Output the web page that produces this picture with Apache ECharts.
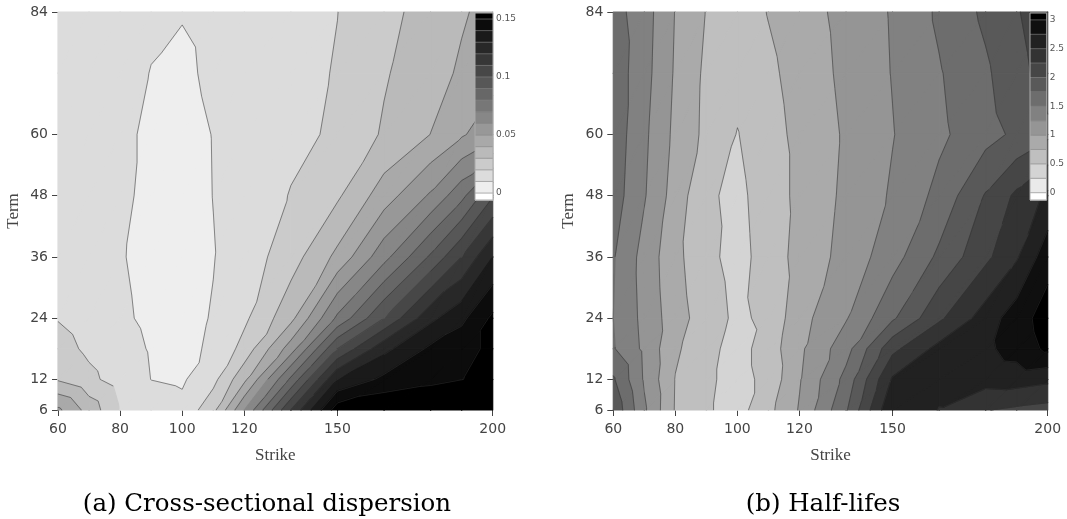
<!DOCTYPE html>
<html>
<head>
<meta charset="utf-8">
<script src="https://cdn.jsdelivr.net/npm/echarts@6/dist/echarts.min.js"></script>
<style>
html, body { margin: 0; padding: 0; background: #fff; }
#main { width: 1067px; height: 519px; }
</style>
</head>
<body>
<div id="main"></div>
<script>
// grid nodes
const strikes = [60, 70, 80, 90, 100, 110, 120, 135, 150, 165, 180, 190, 200]
const terms = [6, 12, 18, 24, 36, 48, 60, 72, 84]
const strikeTicks = [60, 80, 100, 120, 150, 200]
const termTicks = [6, 12, 24, 36, 48, 60, 84]

// rows follow terms (6 .. 84), columns follow strikes
const dispersion = [
  [0.052, 0.036, 0.020, 0.0145, 0.0125, 0.027, 0.060, 0.110, 0.156, 0.160, 0.162, 0.163, 0.164],
  [0.029, 0.0225, 0.0155, 0.0099, 0.0088, 0.017, 0.0375, 0.082, 0.130, 0.1425, 0.147, 0.1498, 0.153],
  [0.024, 0.018, 0.0135, 0.0093, 0.0083, 0.011, 0.0235, 0.055, 0.100, 0.127, 0.142, 0.147, 0.152],
  [0.0195, 0.0155, 0.0115, 0.0082, 0.0075, 0.0105, 0.018, 0.037, 0.072, 0.100, 0.1275, 0.1375, 0.152],
  [0.016, 0.0145, 0.0106, 0.0075, 0.0068, 0.0097, 0.0145, 0.0255, 0.0425, 0.0665, 0.0915, 0.110, 0.130],
  [0.0155, 0.014, 0.0118, 0.0078, 0.007, 0.0101, 0.0135, 0.0205, 0.0285, 0.045, 0.0614, 0.077, 0.099],
  [0.015, 0.0135, 0.0118, 0.0085, 0.0075, 0.0102, 0.013, 0.0175, 0.0215, 0.0312, 0.0401, 0.0487, 0.057],
  [0.015, 0.014, 0.0125, 0.0098, 0.0085, 0.0115, 0.0135, 0.017, 0.0206, 0.029, 0.0365, 0.0413, 0.046],
  [0.015, 0.014, 0.012, 0.0112, 0.0104, 0.012, 0.014, 0.017, 0.0199, 0.027, 0.034, 0.039, 0.043]
]
const halfLife = [
  [1.95, 1.29, 0.73, 0.53, 0.40, 0.68, 1.02, 1.72, 2.74, 2.49, 2.26, 2.20, 2.15],
  [1.78, 1.22, 0.74, 0.55, 0.40, 0.58, 0.98, 1.58, 2.53, 2.58, 2.60, 2.62, 2.56],
  [1.52, 1.20, 0.79, 0.58, 0.40, 0.62, 0.95, 1.40, 2.18, 2.58, 2.70, 2.85, 3.05],
  [1.50, 1.18, 0.86, 0.62, 0.45, 0.56, 0.91, 1.23, 1.71, 2.20, 2.62, 2.88, 3.12],
  [1.52, 1.16, 0.82, 0.56, 0.42, 0.60, 0.84, 1.08, 1.40, 1.80, 2.19, 2.47, 2.90],
  [1.62, 1.27, 0.89, 0.54, 0.44, 0.62, 0.81, 1.05, 1.28, 1.57, 2.02, 2.30, 2.55],
  [1.65, 1.30, 0.94, 0.69, 0.49, 0.66, 0.81, 1.03, 1.24, 1.45, 1.66, 1.80, 1.95],
  [1.65, 1.34, 0.97, 0.70, 0.58, 0.70, 0.84, 1.06, 1.26, 1.48, 1.71, 1.92, 2.10],
  [1.60, 1.36, 0.99, 0.74, 0.62, 0.76, 0.88, 1.08, 1.27, 1.54, 1.80, 1.98, 2.15]
]

// contour levels and colour bar labels
const dispersionLevels = [0, 0.01, 0.02, 0.03, 0.04, 0.05, 0.06, 0.07, 0.08, 0.09, 0.1, 0.11, 0.12, 0.13, 0.14, 0.15]
const halfLifeLevels = [0, 0.25, 0.5, 0.75, 1, 1.25, 1.5, 1.75, 2, 2.25, 2.5, 2.75, 3]
const dispersionBarTicks = [0, 0.05, 0.1, 0.15]
const halfLifeBarTicks = [0, 0.5, 1, 1.5, 2, 2.5, 3]

const captionFont = '"DejaVu Serif", "Liberation Serif", serif'
const nameFont = '"Liberation Serif", serif'
const tickFont = '"DejaVu Sans", sans-serif'

function bandColor(k, n) {
  const g = Math.max(0, Math.round(255 * Math.pow(1 - k / n, 1.1)))
  return 'rgb(' + g + ',' + g + ',' + g + ')'
}

// keep the part of a polygon on one side of a level (points are [x, y, value])
function clipPoly(poly, level, keepAbove) {
  const out = []
  for (let i = 0; i < poly.length; i++) {
    const a = poly[i]
    const b = poly[(i + 1) % poly.length]
    const ain = keepAbove ? a[2] >= level : a[2] <= level
    const bin = keepAbove ? b[2] >= level : b[2] <= level
    if (ain) out.push(a)
    if (ain !== bin) {
      const f = (level - a[2]) / (b[2] - a[2])
      out.push([a[0] + f * (b[0] - a[0]), a[1] + f * (b[1] - a[1]), level])
    }
  }
  return out
}

function cellTriangles(api, values) {
  const i = api.value(2)
  const j = api.value(3)
  const corner = (ii, jj) => {
    const p = api.coord([strikes[ii], terms[jj]])
    return [p[0], p[1], values[jj][ii]]
  }
  const p00 = corner(i, j)
  const p10 = corner(i + 1, j)
  const p01 = corner(i, j + 1)
  const p11 = corner(i + 1, j + 1)
  return [[p00, p10, p11], [p00, p11, p01]]
}

function fillRenderer(values, levels) {
  return function (params, api) {
    const children = []
    cellTriangles(api, values).forEach(tri => {
      for (let k = 0; k <= levels.length; k++) {
        let poly = tri
        if (k > 0) poly = clipPoly(poly, levels[k - 1], true)
        if (k < levels.length && poly.length >= 3) poly = clipPoly(poly, levels[k], false)
        if (poly.length >= 3) {
          const c = bandColor(k, levels.length)
          children.push({
            type: 'polygon',
            shape: { points: poly.map(p => [p[0], p[1]]) },
            style: { fill: c, stroke: c, lineWidth: 1.2, lineJoin: 'round' }
          })
        }
      }
    })
    return { type: 'group', children: children }
  }
}

function lineRenderer(values, levels) {
  return function (params, api) {
    const children = []
    cellTriangles(api, values).forEach(tri => {
      levels.forEach(L => {
        const pts = []
        for (let e = 0; e < 3; e++) {
          const a = tri[e]
          const b = tri[(e + 1) % 3]
          if ((a[2] - L) * (b[2] - L) < 0) {
            const f = (L - a[2]) / (b[2] - a[2])
            pts.push([a[0] + f * (b[0] - a[0]), a[1] + f * (b[1] - a[1])])
          }
        }
        if (pts.length === 2) {
          children.push({
            type: 'line',
            shape: { x1: pts[0][0], y1: pts[0][1], x2: pts[1][0], y2: pts[1][1] },
            style: { stroke: 'rgba(50,50,50,0.75)', lineWidth: 0.7 }
          })
        }
      })
    })
    return { type: 'group', children: children }
  }
}

function cells() {
  const out = []
  for (let j = 0; j < terms.length - 1; j++) {
    for (let i = 0; i < strikes.length - 1; i++) out.push([strikes[i], terms[j], i, j])
  }
  return out
}

// whole colour bar drawn from one item, bands follow the y axis of its grid
function barRenderer(levels, lo, hi) {
  return function (params, api) {
    const children = []
    for (let k = 0; k <= levels.length; k++) {
      const a = api.coord([0, k === 0 ? lo : levels[k - 1]])
      const b = api.coord([1, k === levels.length ? hi : levels[k]])
      children.push({
        type: 'rect',
        shape: { x: a[0], y: b[1], width: b[0] - a[0], height: a[1] - b[1] + 0.5 },
        style: { fill: bandColor(k, levels.length) }
      })
    }
    for (let k = 0; k < levels.length; k++) {
      const a = api.coord([0, levels[k]])
      const b = api.coord([1, levels[k]])
      children.push({
        type: 'line',
        shape: { x1: a[0], y1: a[1], x2: b[0], y2: b[1] },
        style: { stroke: 'rgba(140,140,140,0.9)', lineWidth: 0.7 }
      })
    }
    const top = api.coord([1, hi])
    const bottom = api.coord([0, lo])
    children.push({
      type: 'rect',
      shape: { x: bottom[0], y: top[1], width: top[0] - bottom[0], height: bottom[1] - top[1] },
      style: { fill: null, stroke: '#aaa', lineWidth: 1 }
    })
    return { type: 'group', children: children }
  }
}

function plotX(grid) {
  return {
    type: 'value', gridIndex: grid, min: 60, max: 200,
    name: 'Strike', nameLocation: 'middle', nameGap: 37,
    nameTextStyle: { fontFamily: nameFont, fontSize: 17, color: '#444' },
    axisLine: { show: false },
    splitLine: { show: false },
    axisTick: { show: true, length: 6, customValues: strikeTicks, lineStyle: { color: '#444' } },
    axisLabel: { customValues: strikeTicks, fontFamily: tickFont, fontSize: 14, color: '#444', margin: 12 }
  }
}

function plotY(grid) {
  return {
    type: 'value', gridIndex: grid, min: 6, max: 84,
    name: 'Term', nameLocation: 'middle', nameGap: 36,
    nameTextStyle: { fontFamily: nameFont, fontSize: 17, color: '#444' },
    axisLine: { show: false },
    splitLine: { show: false },
    axisTick: { show: true, length: 6, customValues: termTicks, lineStyle: { color: '#444' } },
    axisLabel: { customValues: termTicks, fontFamily: tickFont, fontSize: 14, color: '#444', margin: 10 }
  }
}

function barX(grid) {
  return { type: 'value', gridIndex: grid, min: 0, max: 1, show: false }
}

function barY(grid, lo, hi, ticks) {
  return {
    type: 'value', gridIndex: grid, min: lo, max: hi, position: 'right', zlevel: 1,
    axisLine: { show: false },
    splitLine: { show: false },
    axisTick: { show: true, length: 3, customValues: ticks, lineStyle: { color: '#888' } },
    axisLabel: { customValues: ticks, fontFamily: tickFont, fontSize: 9, color: '#555', margin: 3 }
  }
}

const chart = echarts.init(document.getElementById('main'))
chart.setOption({
  animation: false,
  backgroundColor: '#fff',
  title: [
    { text: '(a) Cross-sectional dispersion', left: 262, top: 487, textAlign: 'center',
      textStyle: { fontFamily: captionFont, fontSize: 24.5, fontWeight: 'normal', color: '#000' } },
    { text: '(b) Half-lifes', left: 818, top: 487, textAlign: 'center',
      textStyle: { fontFamily: captionFont, fontSize: 24.5, fontWeight: 'normal', color: '#000' } }
  ],
  grid: [
    { left: 58, top: 12, width: 434.7, height: 398 },
    { left: 475, top: 13, width: 18, height: 187 },
    { left: 613.3, top: 12, width: 434.4, height: 398 },
    { left: 1030, top: 13, width: 18, height: 187 }
  ],
  xAxis: [plotX(0), barX(1), plotX(2), barX(3)],
  yAxis: [
    plotY(0),
    barY(1, -0.006, 0.1552, dispersionBarTicks),
    plotY(2),
    barY(3, -0.127, 3.12, halfLifeBarTicks)
  ],
  series: [
    { type: 'custom', xAxisIndex: 0, yAxisIndex: 0, silent: true, z: 1, encode: { x: 0, y: 1 },
      renderItem: fillRenderer(dispersion, dispersionLevels), data: cells() },
    { type: 'custom', xAxisIndex: 0, yAxisIndex: 0, silent: true, z: 2, encode: { x: 0, y: 1 },
      renderItem: lineRenderer(dispersion, dispersionLevels), data: cells() },
    { type: 'custom', xAxisIndex: 1, yAxisIndex: 1, silent: true, zlevel: 1, z: 5, encode: { x: 0, y: 1 },
      renderItem: barRenderer(dispersionLevels, -0.006, 0.1552), data: [[0.5, 0.07]] },
    { type: 'custom', xAxisIndex: 2, yAxisIndex: 2, silent: true, z: 1, encode: { x: 0, y: 1 },
      renderItem: fillRenderer(halfLife, halfLifeLevels), data: cells() },
    { type: 'custom', xAxisIndex: 2, yAxisIndex: 2, silent: true, z: 2, encode: { x: 0, y: 1 },
      renderItem: lineRenderer(halfLife, halfLifeLevels), data: cells() },
    { type: 'custom', xAxisIndex: 3, yAxisIndex: 3, silent: true, zlevel: 1, z: 5, encode: { x: 0, y: 1 },
      renderItem: barRenderer(halfLifeLevels, -0.127, 3.12), data: [[0.5, 1.5]] }
  ]
})
</script>
</body>
</html>
